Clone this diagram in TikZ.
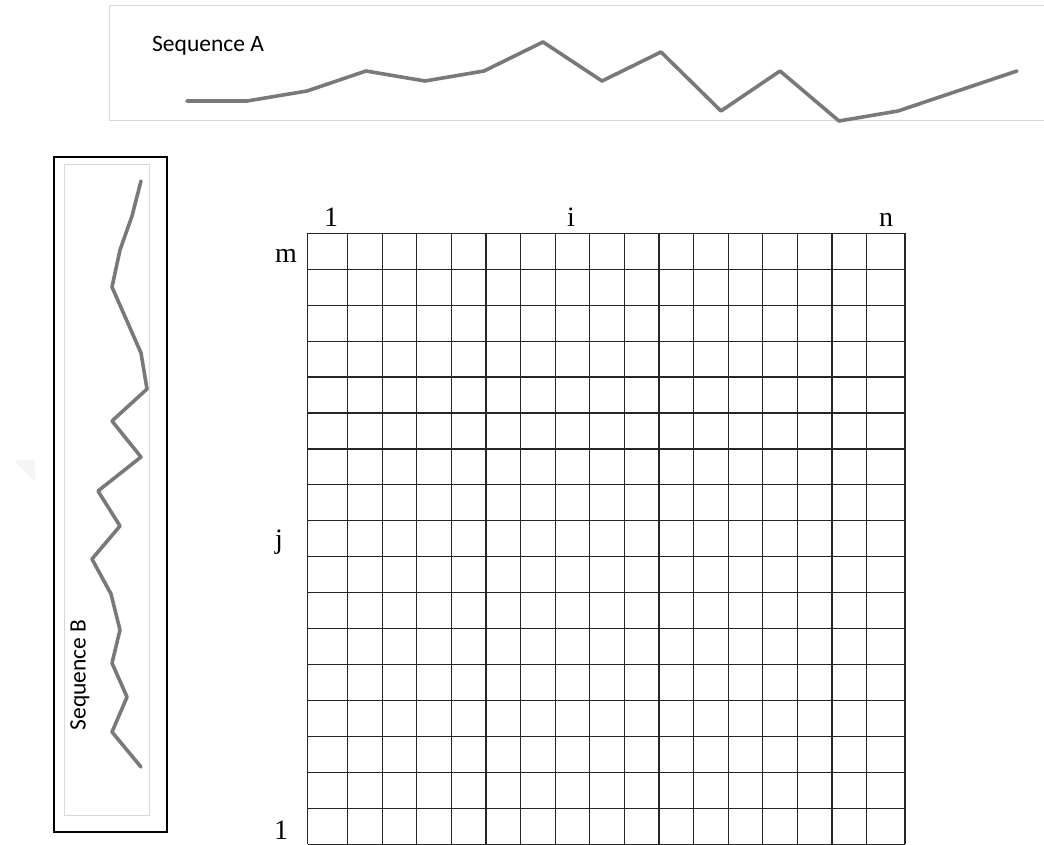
\documentclass[tikz,border=0pt]{standalone}
\usepackage{fontspec}
\setmainfont{Liberation Serif}
\newfontfamily\calib{Carlito}
\begin{document}
\begin{tikzpicture}[x=1pt,y=-1pt,
  seqline/.style={draw=gray!95!black, line width=3.6pt, line join=round, line cap=round},
  panel/.style={draw=gray!30, line width=1pt},
  gridline/.style={draw=black!85, line width=1.2pt},
  idx/.style={font=\fontsize{28}{28}\selectfont, anchor=base, inner sep=0pt},
  seqlabel/.style={font=\calib\fontsize{23.5}{23.5}\selectfont, inner sep=0pt}]
\useasboundingbox (0,0) rectangle (1044,845);
% faint mark at left
\fill[gray!8] (14,460) -- (35,460) -- (35,482) -- cycle;
% Sequence A panel
\draw[panel] (1045,6) -- (109,6) -- (109,121) -- (1045,121);
\node[seqlabel, anchor=west] (labA) at (152,46) {Sequence A};
\draw[seqline] (187,101) -- (247,101) -- (307,91) -- (366,71) -- (425,81) -- (484,71) -- (543,42) -- (602,81) -- (661,52) -- (721,111) -- (780,71) -- (839,121) -- (898,111) -- (1017,71);
% Sequence B panel
\draw[black, line width=1.2pt] (54,157) rectangle (167,832);
\draw[panel] (64,165) rectangle (149,815);
\node[seqlabel, rotate=90] (labB) at (80,675) {Sequence B};
\draw[seqline] (141,181) -- (132,216) -- (120,250) -- (112,287) -- (141,353) -- (147,389) -- (112,421) -- (141,457) -- (98,491) -- (120,526) -- (92,559) -- (111,594) -- (120,630) -- (112,663) -- (127,697) -- (112,732) -- (141,767);
% grid
\foreach \k in {0,...,17} {
  \draw[gridline] (307.5,233.3+\k*35.94) -- (905,233.3+\k*35.94);
}
\draw[gridline] (307.5,233.3) -- (307.5,844.3);
\foreach \k in {0,...,15} {
  \draw[gridline] (347.5+\k*34.6,233.3) -- (347.5+\k*34.6,844.3);
}
\draw[gridline] (905,233.3) -- (905,844.3);
% labels
\node[idx] (c1) at (331,226) {1};
\node[idx] (ci) at (571,226) {i};
\node[idx] (cn) at (886,226) {n};
\node[idx] (rm) at (286,262) {m};
\node[idx] (rj) at (279,548) {j};
\node[idx] (r1) at (281,839) {1};
\end{tikzpicture}
\end{document}
